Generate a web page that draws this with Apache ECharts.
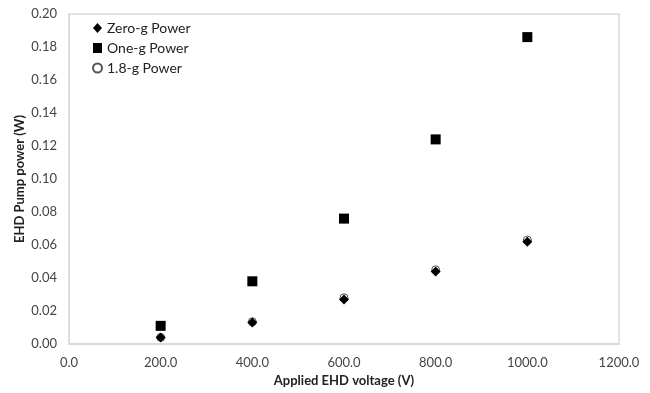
<!DOCTYPE html>
<html><head><meta charset="utf-8">
<script src="https://cdn.jsdelivr.net/npm/echarts@6/dist/echarts.min.js"></script>
<style>html,body{margin:0;padding:0;background:#fff}#c{width:650px;height:393px}</style>
</head><body><div id="c"></div>
<script>
const voltages = [200, 400, 600, 800, 1000];
const zeroG = [0.004, 0.013, 0.027, 0.044, 0.062];
const oneG = [0.011, 0.038, 0.076, 0.124, 0.186];
const g18 = [0.004, 0.0135, 0.028, 0.045, 0.063];
const pairs = (ys) => voltages.map((v, i) => [v, ys[i]]);
const font = 'Lato, "Open Sans", sans-serif';
const chart = echarts.init(document.getElementById('c'));
chart.setOption({
  animation: false,
  textStyle: { fontFamily: font },
  grid: { left: 69, right: 31, top: 14, bottom: 49, show: true, borderColor: '#d9d9d9', borderWidth: 1.5 },
  legend: {
    orient: 'vertical', left: 87, top: 16, itemGap: 6, itemWidth: 9, itemHeight: 10,
    textStyle: { fontFamily: font, fontSize: 14, color: '#222' },
    data: ['Zero-g Power', 'One-g Power', '1.8-g Power']
  },
  xAxis: {
    type: 'value', min: 0, max: 1200, interval: 200,
    name: 'Applied EHD voltage (V)', nameLocation: 'middle', nameGap: 29,
    nameTextStyle: { fontFamily: font, fontWeight: 'bold', fontSize: 13, color: '#222' },
    axisLine: { show: true, lineStyle: { color: '#d9d9d9', width: 1.5 } },
    axisTick: { show: false }, splitLine: { show: false },
    axisLabel: { formatter: v => v.toFixed(1), color: '#444', fontSize: 13, margin: 12 }
  },
  yAxis: {
    type: 'value', min: 0, max: 0.2, interval: 0.02,
    name: 'EHD Pump power (W)', nameLocation: 'middle', nameGap: 43, nameMoveOverlap: false,
    nameTextStyle: { fontFamily: font, fontWeight: 'bold', fontSize: 13, color: '#222' },
    axisLine: { show: true, lineStyle: { color: '#d9d9d9', width: 1.5 } },
    axisTick: { show: false }, splitLine: { show: false },
    axisLabel: { formatter: v => v.toFixed(2), color: '#444', fontSize: 13, margin: 12 }
  },
  series: [
    { name: 'Zero-g Power', type: 'scatter', data: pairs(zeroG), symbol: 'diamond', symbolSize: 10, z: 3,
      itemStyle: { color: '#000', opacity: 1 } },
    { name: 'One-g Power', type: 'scatter', data: pairs(oneG), symbol: 'rect', symbolSize: 10, z: 3,
      itemStyle: { color: '#000', opacity: 1 } },
    { name: '1.8-g Power', type: 'scatter', data: pairs(g18), symbol: 'circle', symbolSize: 8, z: 2,
      itemStyle: { color: '#fff', borderColor: '#555', borderWidth: 1, opacity: 1 } }
  ]
});
</script></body></html>
